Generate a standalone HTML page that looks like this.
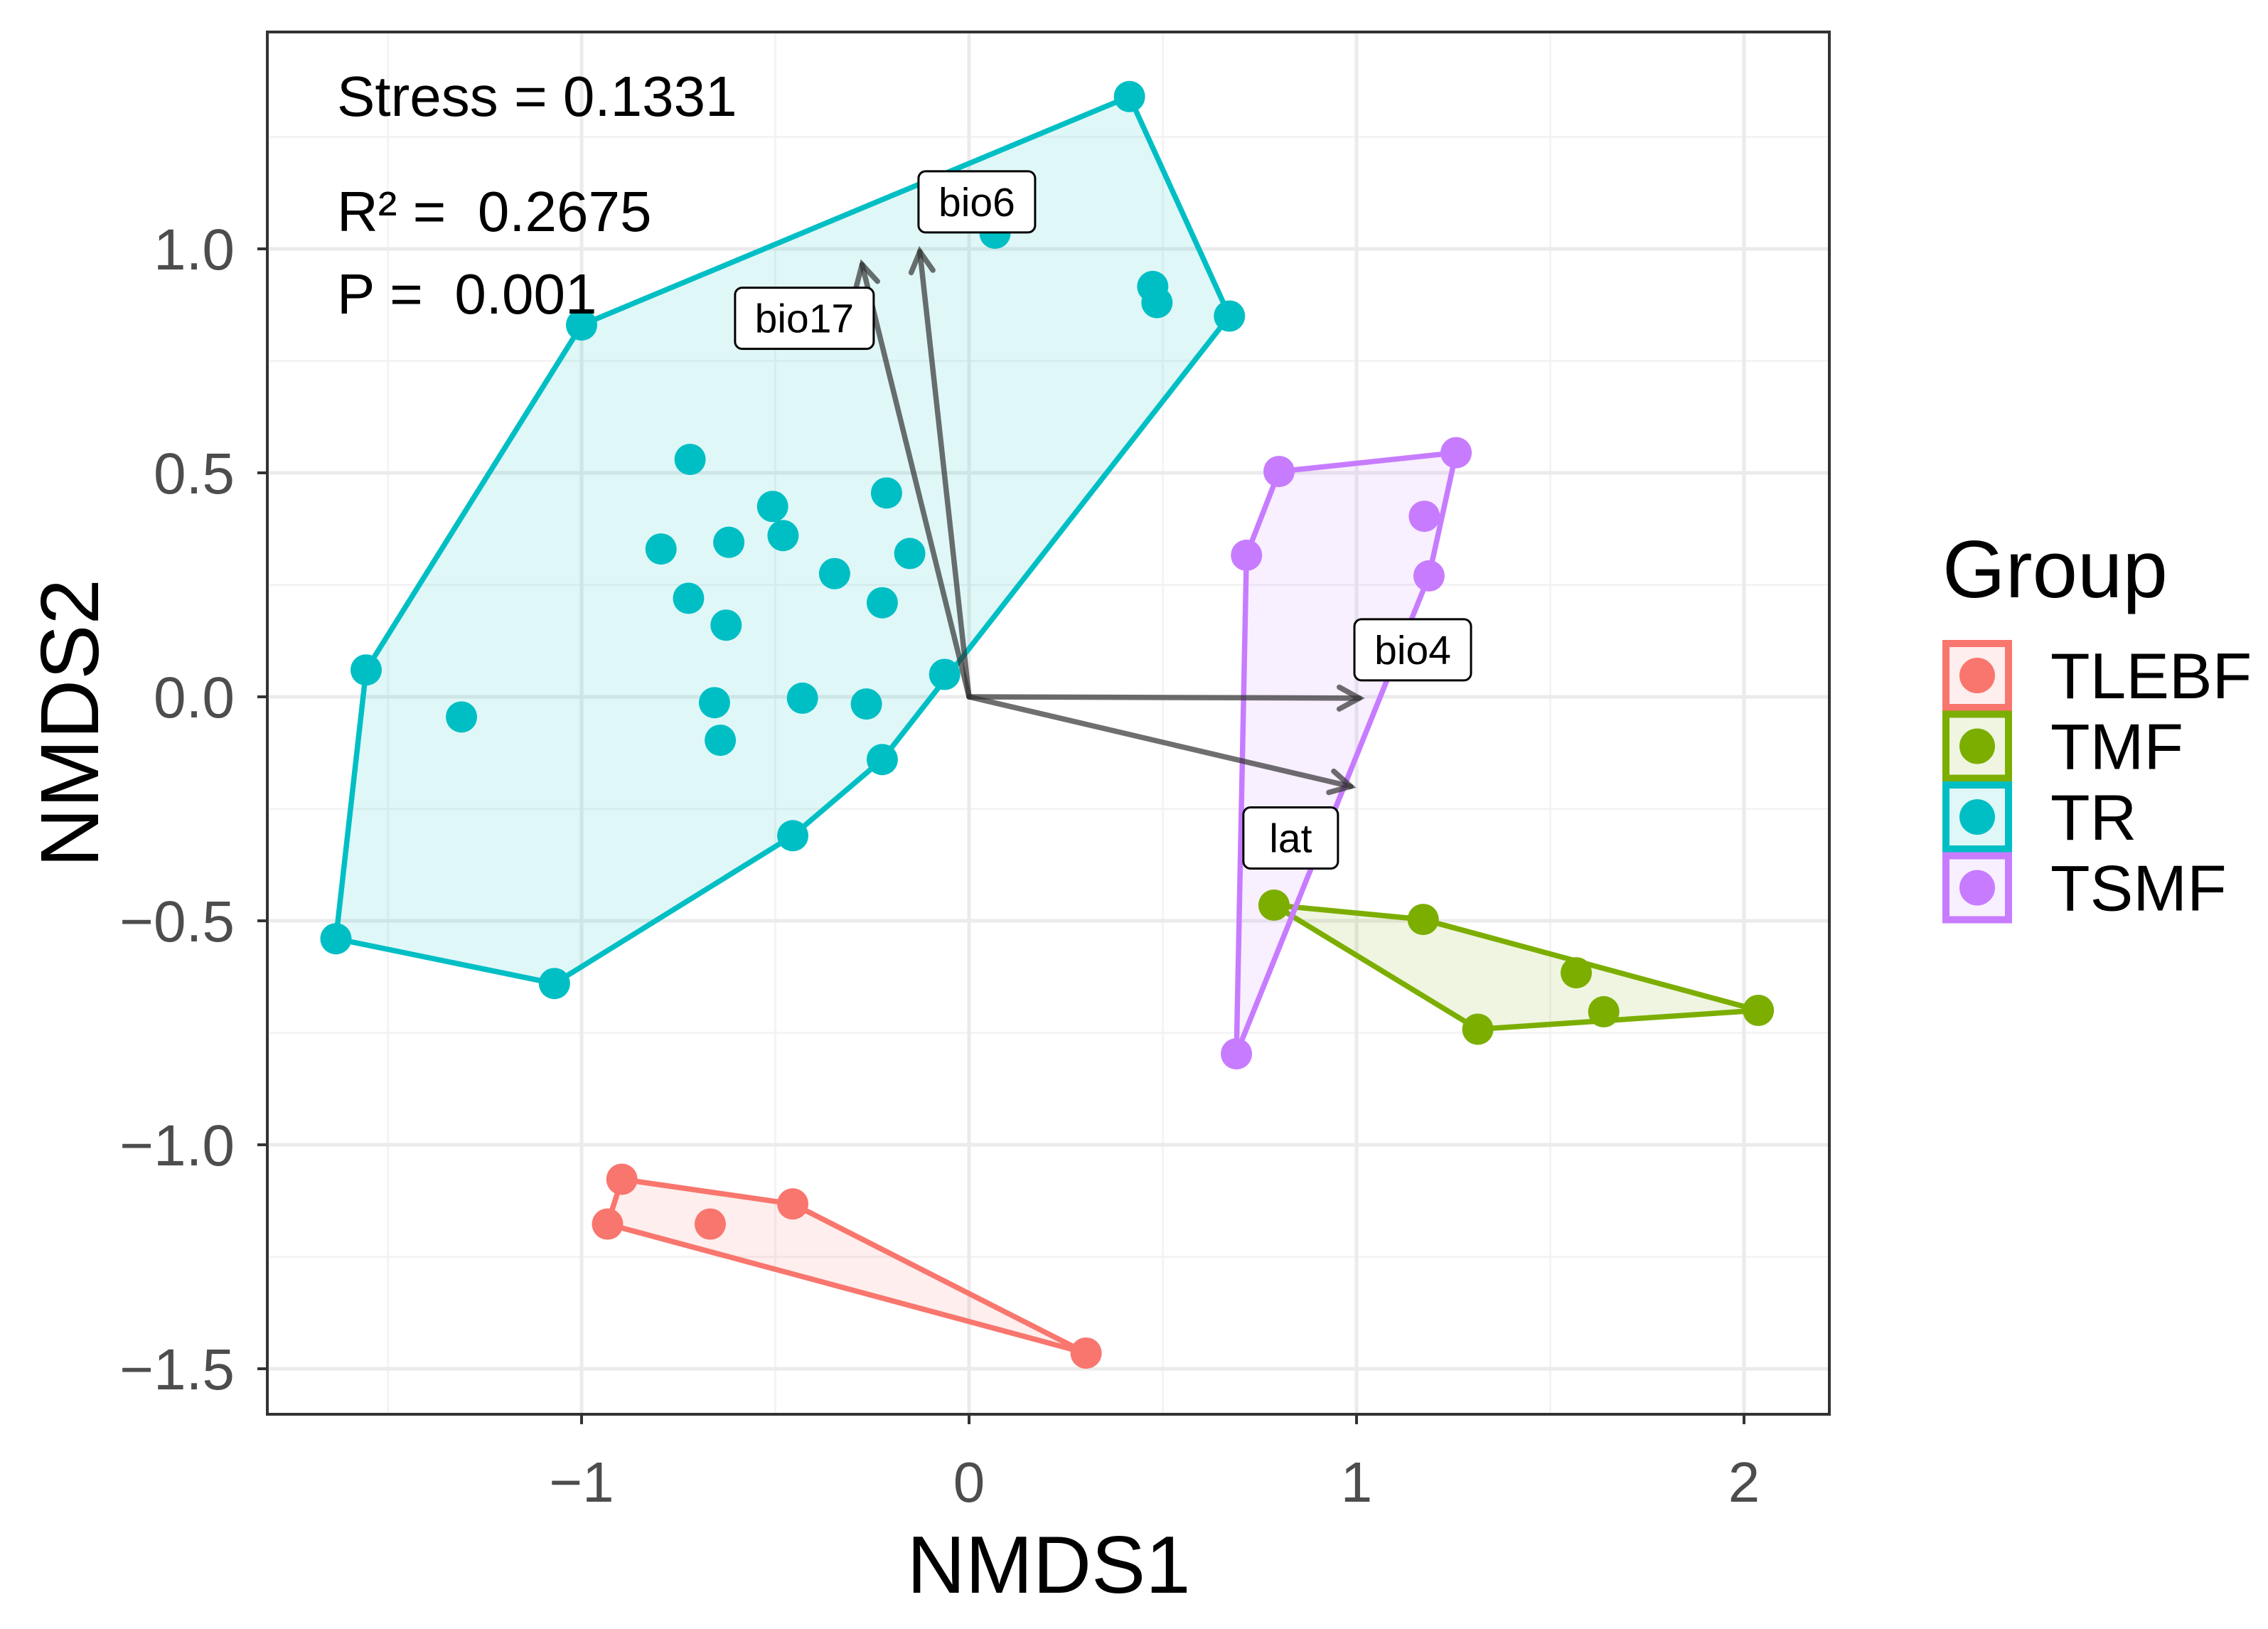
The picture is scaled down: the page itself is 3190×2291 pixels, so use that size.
<!DOCTYPE html>
<html><head><meta charset="utf-8">
<style>html,body{margin:0;padding:0;background:#fff;}svg{display:block;font-family:"Liberation Sans",Arial,sans-serif;}</style>
</head><body>
<svg id="chart" width="3190" height="2291" viewBox="0 0 3190 2291" xmlns="http://www.w3.org/2000/svg">
<g id="grid"></g>
<g id="hulls"></g>
<g id="arrows"></g>
<g id="points"></g>
<g id="labels"></g>
<rect x="376" y="45" width="2197" height="1944" fill="none" stroke="#333" stroke-width="4"/>
<g id="axes"></g>
<text x="474" y="163" font-size="80" fill="#000">Stress = 0.1331</text>
<text x="474" y="325" font-size="80" fill="#000" xml:space="preserve">R² =  0.2675</text>
<text x="474" y="441" font-size="80" fill="#000" xml:space="preserve">P =  0.001</text>
<text x="1475" y="2240" font-size="114" text-anchor="middle" fill="#000">NMDS1</text>
<text transform="translate(138,1017) rotate(-90)" font-size="116" text-anchor="middle" fill="#000">NMDS2</text>
<g id="legend">
<text x="2732" y="840" font-size="114" fill="#000">Group</text>
</g>
</svg>
<script>
const groups = ["TLEBF","TMF","TR","TSMF"];
const colors = ["#F8766D","#7CAE00","#00BFC4","#C77CFF"];
const fills = ["rgba(248,118,109,0.12)","rgba(124,174,0,0.12)","rgba(0,191,196,0.12)","rgba(199,124,255,0.12)"];
const tlebfX = [-0.896,-0.933,-0.668,-0.455,0.302];
const tlebfY = [-1.077,-1.177,-1.177,-1.132,-1.465];
const tmfX = [0.787,1.172,1.567,2.037,1.638,1.313];
const tmfY = [-0.465,-0.497,-0.616,-0.700,-0.703,-0.742];
const trX = [-1.0,-1.556,-1.634,-1.07,-0.455,-0.224,-0.063,0.672,0.414,0.067,0.474,0.485,-1.31,-0.72,-0.795,-0.724,-0.627,-0.62,-0.507,-0.48,-0.347,-0.213,-0.153,-0.224,-0.657,-0.642,-0.43,-0.265];
const trY = [0.83,0.06,-0.54,-0.64,-0.31,-0.14,0.05,0.85,1.34,1.035,0.916,0.88,-0.045,0.53,0.33,0.22,0.16,0.345,0.425,0.36,0.275,0.455,0.32,0.21,-0.013,-0.097,-0.003,-0.016];
const tsmfX = [0.8,1.257,1.175,1.187,0.716,0.69];
const tsmfY = [0.503,0.545,0.403,0.27,0.316,-0.797];
const arrowNames = ["bio6","bio17","bio4","lat"];
const arrowX = [-0.127,-0.276,1.007,0.985];
const arrowY = [0.994,0.965,-0.003,-0.2];
const labelX = [0.02,-0.425,1.145,0.83];
const labelY = [1.105,0.845,0.105,-0.315];
const xTicks = [-1,0,1,2];
const xTickLabels = ["\u22121","0","1","2"];
const yTicks = [-1.5,-1,-0.5,0,0.5,1];
const yTickLabels = ["\u22121.5","\u22121.0","\u22120.5","0.0","0.5","1.0"];

const NS="http://www.w3.org/2000/svg";
const L=376,R=2573,T=45,B=1989;
const sx=v=>1363+v*545;
const sy=v=>980-v*630;
function mk(tag,attrs,parent){const e=document.createElementNS(NS,tag);for(const k in attrs)e.setAttribute(k,attrs[k]);parent.appendChild(e);return e;}
const grid=document.getElementById('grid');
mk('rect',{x:L,y:T,width:R-L,height:B-T,fill:'#fff'},grid);
[-1.5,-0.5,0.5,1.5].forEach(v=>{const l=mk('line',{x1:sx(v),x2:sx(v),y1:T,y2:B,stroke:'#f2f2f2','stroke-width':2.5},grid);});
[-1.25,-0.75,-0.25,0.25,0.75,1.25].forEach(v=>{const l=mk('line',{x1:L,x2:R,y1:sy(v),y2:sy(v),stroke:'#f2f2f2','stroke-width':2.5},grid);});
const axes=document.getElementById('axes');
xTicks.forEach((v,i)=>{
 const g=mk('line',{x1:sx(v),x2:sx(v),y1:T,y2:B,stroke:'#ebebeb','stroke-width':5},grid);
 
 const t=mk('line',{x1:sx(v),x2:sx(v),y1:B,y2:B+14,stroke:'#333','stroke-width':4},axes);
 
 const tx=mk('text',{x:sx(v),y:2112,'font-size':80,'text-anchor':'middle',fill:'#4d4d4d'},axes);tx.textContent=xTickLabels[i];
 
});
yTicks.forEach((v,i)=>{
 const g=mk('line',{x1:L,x2:R,y1:sy(v),y2:sy(v),stroke:'#ebebeb','stroke-width':5},grid);
 
 const t=mk('line',{x1:L-14,x2:L,y1:sy(v),y2:sy(v),stroke:'#333','stroke-width':4},axes);
 
 const tx=mk('text',{x:330,y:sy(v)+29,'font-size':82,'text-anchor':'end',fill:'#4d4d4d'},axes);tx.textContent=yTickLabels[i];
 
});
function hull(pts){pts=pts.slice().sort((a,b)=>a[0]-b[0]||a[1]-b[1]);const cr=(o,a,b)=>(a[0]-o[0])*(b[1]-o[1])-(a[1]-o[1])*(b[0]-o[0]);const lo=[],up=[];for(const p of pts){while(lo.length>=2&&cr(lo[lo.length-2],lo[lo.length-1],p)<=0)lo.pop();lo.push(p);}for(let i=pts.length-1;i>=0;i--){const p=pts[i];while(up.length>=2&&cr(up[up.length-2],up[up.length-1],p)<=0)up.pop();up.push(p);}up.pop();lo.pop();return lo.concat(up);}
const xs=[tlebfX,tmfX,trX,tsmfX], ys=[tlebfY,tmfY,trY,tsmfY];
const hg=document.getElementById('hulls'), pg=document.getElementById('points');
groups.forEach((gname,gi)=>{
 const pts=xs[gi].map((x,i)=>[sx(x),sy(ys[gi][i])]);
 const h=hull(pts);
 const poly=mk('polygon',{points:h.map(p=>p.join(',')).join(' '),fill:fills[gi],stroke:colors[gi],'stroke-width':7.5,'stroke-linejoin':'round'},hg);
 
 
});
groups.forEach((gname,gi)=>{
 xs[gi].forEach((x,i)=>{
  const c=mk('circle',{cx:sx(x),cy:sy(ys[gi][i]),r:22,fill:colors[gi]},pg);
  
  
 });
});
const ag=document.getElementById('arrows'), lg=document.getElementById('labels');
arrowNames.forEach((n,i)=>{
 const x0=sx(0),y0=sy(0),x1=sx(arrowX[i]),y1=sy(arrowY[i]);
 const a=mk('g',{stroke:'rgba(50,50,50,0.7)','stroke-width':7.5,fill:'none','stroke-linecap':'round'},ag);
 
 
 mk('line',{x1:x0,y1:y0,x2:x1,y2:y1},a);
 const ang=Math.atan2(y1-y0,x1-x0),hl=32,sp=0.5;
 mk('polyline',{points:`${x1-hl*Math.cos(ang-sp)},${y1-hl*Math.sin(ang-sp)} ${x1},${y1} ${x1-hl*Math.cos(ang+sp)},${y1-hl*Math.sin(ang+sp)}`},a);
 const cx=sx(labelX[i]),cy=sy(labelY[i]);
 const w=n.length*31+40,h=86;
 const lab=mk('g',{},lg);
 
 
 mk('rect',{x:cx-w/2,y:cy-h/2,width:w,height:h,rx:10,fill:'#fff',stroke:'#000','stroke-width':3},lab);
 const t=mk('text',{x:cx,y:cy+20,'font-size':57,'text-anchor':'middle',fill:'#000'},lab);t.textContent=n;
});
const leg=document.getElementById('legend');
groups.forEach((gname,gi)=>{
 const cy=950+gi*99.5;
 const e=mk('g',{},leg);
 
 
 mk('rect',{x:2737,y:cy-45,width:88,height:90,fill:fills[gi],stroke:colors[gi],'stroke-width':10},e);
 mk('circle',{cx:2781,cy:cy,r:25,fill:colors[gi]},e);
 const t=mk('text',{x:2884,y:cy+32,'font-size':91,fill:'#000'},e);t.textContent=gname;
});
</script>
</body></html>
